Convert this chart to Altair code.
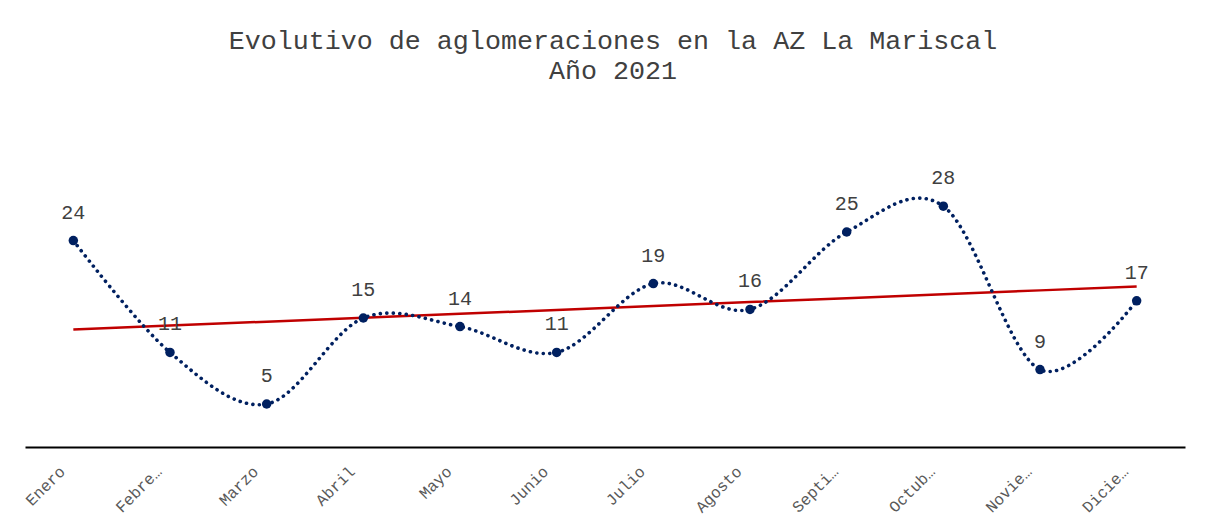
import altair as alt
import pandas as pd

months = ["Enero", "Febrero", "Marzo", "Abril", "Mayo", "Junio", "Julio",
          "Agosto", "Septiembre", "Octubre", "Noviembre", "Diciembre"]
values = [24, 11, 5, 15, 14, 11, 19, 16, 25, 28, 9, 17]
title_lines = ["Evolutivo de aglomeraciones en la AZ La Mariscal", "Año 2021"]

df = pd.DataFrame({"mes": months, "valor": values, "idx": list(range(1, len(months) + 1))})

FONT = "Liberation Mono"
NAVY = "#002060"
RED = "#C00000"

x_enc = alt.X(
    "mes:N", sort=months, title=None,
    scale=alt.Scale(type="point", padding=0.5),
    axis=alt.Axis(
        labelAngle=-45, labelFont=FONT, labelFontSize=16, labelColor="#595959",
        ticks=False, domainColor="#000000", domainWidth=2, labelPadding=16,
        labelOffset=-17, grid=False, labelLimit=60,
    ),
)
y_enc = alt.Y("valor:Q", title=None, scale=alt.Scale(domain=[0, 30], nice=False),
              axis=None)

base = alt.Chart(df)

line = base.mark_line(
    interpolate="cardinal", strokeDash=[0.1, 6.4], strokeCap="round",
    strokeWidth=3.6, color=NAVY,
).encode(x=x_enc, y=y_enc)

points = base.mark_circle(size=90, color=NAVY, opacity=1).encode(x=x_enc, y=y_enc)

labels = base.mark_text(
    font=FONT, fontSize=20, color="#404040", baseline="alphabetic", dy=-22,
).encode(x=x_enc, y=y_enc, text="valor:Q")

# least-squares linear trend computed with Vega-Lite transforms
trend = base.transform_joinaggregate(
    mx="mean(idx)", my="mean(valor)"
).transform_calculate(
    dxy="(datum.idx - datum.mx) * (datum.valor - datum.my)",
    dxx="(datum.idx - datum.mx) * (datum.idx - datum.mx)",
).transform_joinaggregate(
    sxy="sum(dxy)", sxx="sum(dxx)"
).transform_calculate(
    fit="datum.my + datum.sxy / datum.sxx * (datum.idx - datum.mx)"
).mark_line(color=RED, strokeWidth=2.5).encode(
    x=x_enc, y=alt.Y("fit:Q", scale=alt.Scale(domain=[0, 30], nice=False), axis=None)
)

chart = alt.layer(trend, line, points, labels).properties(
    width=1160, height=258,
    title=alt.TitleParams(
        text=title_lines, font=FONT, fontSize=26.7, fontWeight="normal",
        color="#404040", lineHeight=30, anchor="middle", offset=84, dx=8,
    ),
    autosize=alt.AutoSizeParams(type="none"),
    padding={"left": 17, "top": 181, "right": 27, "bottom": 70},
).configure_view(stroke=None)

chart.save("out.html", embed_options={"renderer": "svg", "actions": False})
